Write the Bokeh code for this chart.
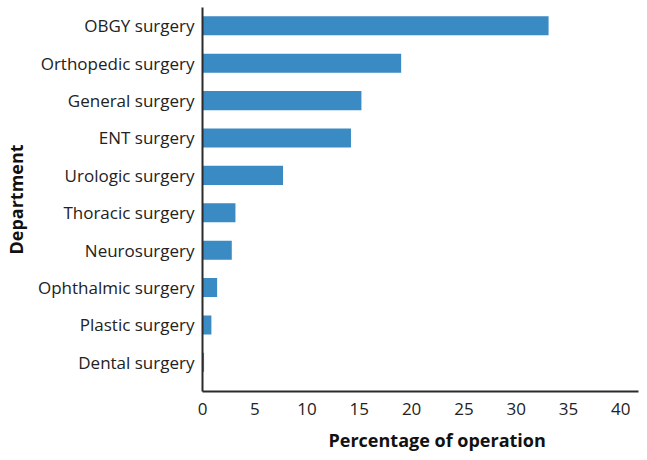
from bokeh.plotting import figure
from bokeh.models import Range1d, FixedTicker, Title
from bokeh.embed import file_html
from bokeh.resources import INLINE

# Share of operations by department (%), listed top to bottom
departments = ["OBGY surgery", "Orthopedic surgery", "General surgery", "ENT surgery",
               "Urologic surgery", "Thoracic surgery", "Neurosurgery",
               "Ophthalmic surgery", "Plastic surgery", "Dental surgery"]
percentages = [33.1, 19.0, 15.2, 14.2, 7.7, 3.15, 2.8, 1.4, 0.85, 0.15]
x_ticks = [0, 5, 10, 15, 20, 25, 30, 35, 40]

FONT = "Open Sans"
BAR = "#3a8ac3"
AXIS = "#2b2b2b"

n = len(departments)
rows = [n - 1 - i for i in range(n)]  # first department on top

p = figure(width=647, height=460, output_backend="svg", toolbar_location=None,
           x_range=Range1d(0, 41.7), y_range=Range1d(-0.78, n - 1 + 0.49),
           min_border_left=201, min_border_right=9, min_border_top=7,
           min_border_bottom=69)

p.hbar(y=rows, right=percentages, left=0, height=0.51, color=BAR, line_color=None)

p.grid.visible = False
p.outline_line_color = None

# x axis
xa = p.xaxis[0]
xa.ticker = FixedTicker(ticks=x_ticks)
xa.axis_line_color = AXIS
xa.axis_line_width = 2
xa.major_tick_line_color = None
xa.minor_tick_line_color = None
xa.major_tick_out = 0
xa.major_label_standoff = 11
xa.major_label_text_font = FONT
xa.major_label_text_font_size = "17px"
xa.major_label_text_color = "#222222"

# y axis with department names
ya = p.yaxis[0]
ya.ticker = FixedTicker(ticks=rows)
ya.major_label_overrides = {r: d for r, d in zip(rows, departments)}
ya.axis_line_color = AXIS
ya.axis_line_width = 2
ya.major_tick_line_color = None
ya.minor_tick_line_color = None
ya.major_tick_out = 0
ya.major_label_standoff = 8
ya.major_label_text_font = FONT
ya.major_label_text_font_size = "17px"
ya.major_label_text_color = "#222222"
ya.axis_label = "Department"
ya.axis_label_text_font = FONT
ya.axis_label_text_font_size = "18px"
ya.axis_label_text_font_style = "bold"
ya.axis_label_text_color = "#111111"
ya.axis_label_standoff = 7

p.add_layout(Title(text="Percentage of operation", align="left", offset=126,
                   text_font=FONT, text_font_size="18px", text_font_style="bold",
                   text_color="#111111", text_line_height=1.0, standoff=16), "below")

open("out.html", "w").write(file_html(p, INLINE))
